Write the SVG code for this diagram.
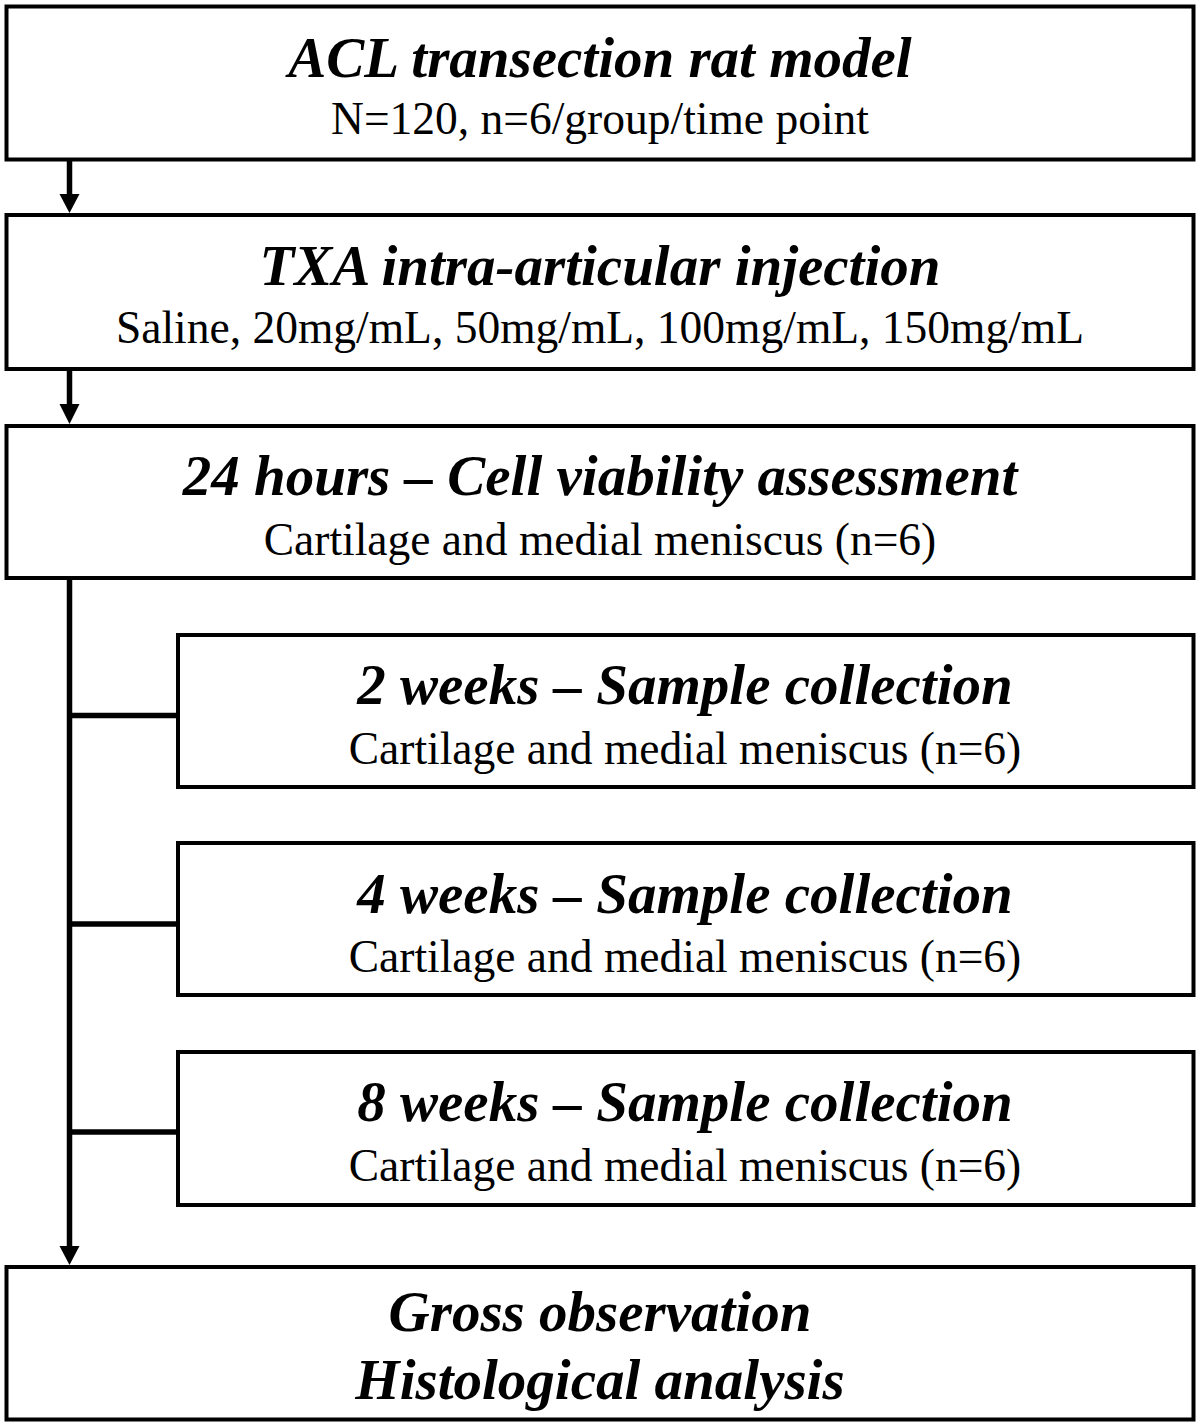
<svg xmlns="http://www.w3.org/2000/svg" width="1200" height="1428" viewBox="0 0 1200 1428">
<style>
.box{fill:#fff;stroke:#000;stroke-width:4}
.t{font-family:"Liberation Serif","Times New Roman",serif;font-weight:bold;font-style:italic;font-size:57px;fill:#000;text-anchor:middle}
.s{font-family:"Liberation Serif","Times New Roman",serif;font-size:45.5px;fill:#000;text-anchor:middle}
.c{fill:none;stroke:#000;stroke-width:5.5}
.h{fill:#000}
</style>
<rect width="1200" height="1428" fill="#fff"/>
<g id="connectors">
<line class="c" x1="69.5" y1="160" x2="69.5" y2="196"/>
<polygon class="h" points="59.5,194 79.5,194 69.5,213"/>
<line class="c" x1="69.5" y1="369" x2="69.5" y2="405"/>
<polygon class="h" points="59.5,404 79.5,404 69.5,424"/>
<line class="c" x1="69.5" y1="578" x2="69.5" y2="1249"/>
<polygon class="h" points="59.5,1246 79.5,1246 69.5,1265"/>
<line class="c" x1="69.5" y1="715.5" x2="178" y2="715.5"/>
<line class="c" x1="69.5" y1="924" x2="178" y2="924"/>
<line class="c" x1="69.5" y1="1132" x2="178" y2="1132"/>
</g>
<g id="n1">
<rect class="box" x="6.5" y="6.5" width="1187" height="153"/>
<text class="t" x="600" y="77">ACL transection rat model</text>
<text class="s" x="600" y="134">N=120, n=6/group/time point</text>
</g>
<g id="n2">
<rect class="box" x="6.5" y="215" width="1187" height="154"/>
<text class="t" x="600" y="285">TXA intra-articular injection</text>
<text class="s" x="600" y="343">Saline, 20mg/mL, 50mg/mL, 100mg/mL, 150mg/mL</text>
</g>
<g id="n3">
<rect class="box" x="6.5" y="426" width="1187" height="152"/>
<text class="t" x="600" y="495">24 hours – Cell viability assessment</text>
<text class="s" x="600" y="555">Cartilage and medial meniscus (n=6)</text>
</g>
<g id="n4">
<rect class="box" x="178" y="635" width="1015.5" height="152"/>
<text class="t" x="685" y="704">2 weeks – Sample collection</text>
<text class="s" x="685" y="764">Cartilage and medial meniscus (n=6)</text>
</g>
<g id="n5">
<rect class="box" x="178" y="843" width="1015.5" height="152"/>
<text class="t" x="685" y="913">4 weeks – Sample collection</text>
<text class="s" x="685" y="972">Cartilage and medial meniscus (n=6)</text>
</g>
<g id="n6">
<rect class="box" x="178" y="1052" width="1015.5" height="153"/>
<text class="t" x="685" y="1121">8 weeks – Sample collection</text>
<text class="s" x="685" y="1181">Cartilage and medial meniscus (n=6)</text>
</g>
<g id="n7">
<rect class="box" x="6.5" y="1267" width="1187" height="152.5"/>
<text class="t" x="600" y="1331">Gross observation</text>
<text class="t" x="600" y="1399">Histological analysis</text>
</g>
</svg>
